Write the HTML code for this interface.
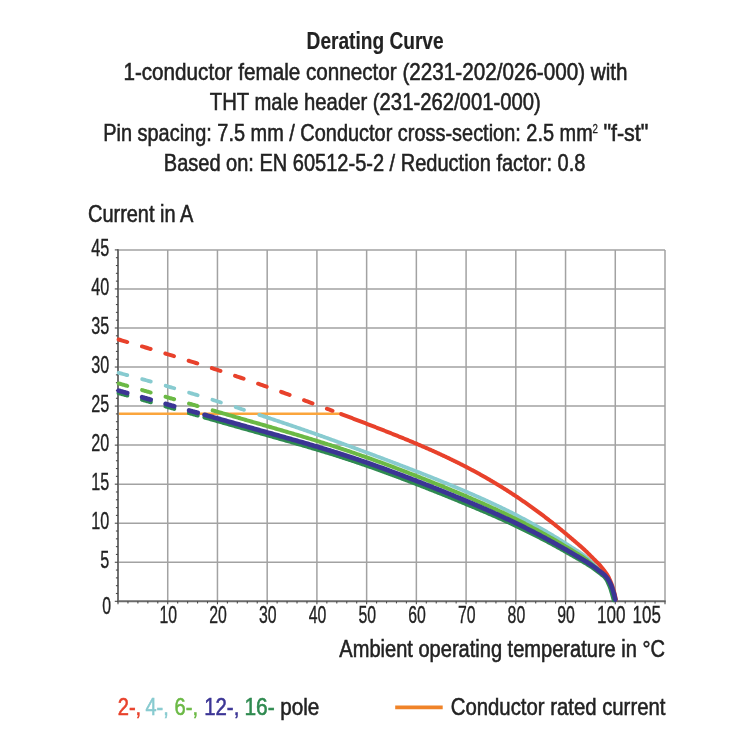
<!DOCTYPE html>
<html><head><meta charset="utf-8"><title>Derating Curve</title>
<style>html,body{margin:0;padding:0;background:#fff;}svg{display:block;}text{font-family:"Liberation Sans",sans-serif;}</style>
</head><body>
<svg width="750" height="750" viewBox="0 0 750 750" style="will-change:transform">
<rect width="750" height="750" fill="#ffffff"/>
<g stroke="#a2a2a2" stroke-width="1.5" fill="none">
<line x1="167.73" y1="249.90" x2="167.73" y2="601.30"/>
<line x1="217.45" y1="249.90" x2="217.45" y2="601.30"/>
<line x1="267.18" y1="249.90" x2="267.18" y2="601.30"/>
<line x1="316.91" y1="249.90" x2="316.91" y2="601.30"/>
<line x1="366.64" y1="249.90" x2="366.64" y2="601.30"/>
<line x1="416.36" y1="249.90" x2="416.36" y2="601.30"/>
<line x1="466.09" y1="249.90" x2="466.09" y2="601.30"/>
<line x1="515.82" y1="249.90" x2="515.82" y2="601.30"/>
<line x1="565.55" y1="249.90" x2="565.55" y2="601.30"/>
<line x1="615.27" y1="249.90" x2="615.27" y2="601.30"/>
<line x1="665.00" y1="249.90" x2="665.00" y2="601.30"/>
<line x1="118.00" y1="562.26" x2="665.00" y2="562.26"/>
<line x1="118.00" y1="523.21" x2="665.00" y2="523.21"/>
<line x1="118.00" y1="484.17" x2="665.00" y2="484.17"/>
<line x1="118.00" y1="445.12" x2="665.00" y2="445.12"/>
<line x1="118.00" y1="406.08" x2="665.00" y2="406.08"/>
<line x1="118.00" y1="367.03" x2="665.00" y2="367.03"/>
<line x1="118.00" y1="327.99" x2="665.00" y2="327.99"/>
<line x1="118.00" y1="288.94" x2="665.00" y2="288.94"/>
<line x1="118.00" y1="249.90" x2="665.00" y2="249.90"/>
</g>
<g stroke="#6a6a6a" stroke-width="1.9" fill="none">
<line x1="118.00" y1="249.20" x2="118.00" y2="602.20"/>
<line x1="117.10" y1="601.30" x2="665.70" y2="601.30"/>
</g>
<g stroke="#4a4a4a" stroke-width="1.1" fill="none">
<line x1="114.80" y1="601.30" x2="118.00" y2="601.30"/>
<line x1="115.90" y1="593.49" x2="118.00" y2="593.49"/>
<line x1="115.90" y1="585.68" x2="118.00" y2="585.68"/>
<line x1="115.90" y1="577.87" x2="118.00" y2="577.87"/>
<line x1="115.90" y1="570.06" x2="118.00" y2="570.06"/>
<line x1="114.80" y1="562.26" x2="118.00" y2="562.26"/>
<line x1="115.90" y1="554.45" x2="118.00" y2="554.45"/>
<line x1="115.90" y1="546.64" x2="118.00" y2="546.64"/>
<line x1="115.90" y1="538.83" x2="118.00" y2="538.83"/>
<line x1="115.90" y1="531.02" x2="118.00" y2="531.02"/>
<line x1="114.80" y1="523.21" x2="118.00" y2="523.21"/>
<line x1="115.90" y1="515.40" x2="118.00" y2="515.40"/>
<line x1="115.90" y1="507.59" x2="118.00" y2="507.59"/>
<line x1="115.90" y1="499.78" x2="118.00" y2="499.78"/>
<line x1="115.90" y1="491.98" x2="118.00" y2="491.98"/>
<line x1="114.80" y1="484.17" x2="118.00" y2="484.17"/>
<line x1="115.90" y1="476.36" x2="118.00" y2="476.36"/>
<line x1="115.90" y1="468.55" x2="118.00" y2="468.55"/>
<line x1="115.90" y1="460.74" x2="118.00" y2="460.74"/>
<line x1="115.90" y1="452.93" x2="118.00" y2="452.93"/>
<line x1="114.80" y1="445.12" x2="118.00" y2="445.12"/>
<line x1="115.90" y1="437.31" x2="118.00" y2="437.31"/>
<line x1="115.90" y1="429.50" x2="118.00" y2="429.50"/>
<line x1="115.90" y1="421.70" x2="118.00" y2="421.70"/>
<line x1="115.90" y1="413.89" x2="118.00" y2="413.89"/>
<line x1="114.80" y1="406.08" x2="118.00" y2="406.08"/>
<line x1="115.90" y1="398.27" x2="118.00" y2="398.27"/>
<line x1="115.90" y1="390.46" x2="118.00" y2="390.46"/>
<line x1="115.90" y1="382.65" x2="118.00" y2="382.65"/>
<line x1="115.90" y1="374.84" x2="118.00" y2="374.84"/>
<line x1="114.80" y1="367.03" x2="118.00" y2="367.03"/>
<line x1="115.90" y1="359.22" x2="118.00" y2="359.22"/>
<line x1="115.90" y1="351.42" x2="118.00" y2="351.42"/>
<line x1="115.90" y1="343.61" x2="118.00" y2="343.61"/>
<line x1="115.90" y1="335.80" x2="118.00" y2="335.80"/>
<line x1="114.80" y1="327.99" x2="118.00" y2="327.99"/>
<line x1="115.90" y1="320.18" x2="118.00" y2="320.18"/>
<line x1="115.90" y1="312.37" x2="118.00" y2="312.37"/>
<line x1="115.90" y1="304.56" x2="118.00" y2="304.56"/>
<line x1="115.90" y1="296.75" x2="118.00" y2="296.75"/>
<line x1="114.80" y1="288.94" x2="118.00" y2="288.94"/>
<line x1="115.90" y1="281.14" x2="118.00" y2="281.14"/>
<line x1="115.90" y1="273.33" x2="118.00" y2="273.33"/>
<line x1="115.90" y1="265.52" x2="118.00" y2="265.52"/>
<line x1="115.90" y1="257.71" x2="118.00" y2="257.71"/>
<line x1="114.80" y1="249.90" x2="118.00" y2="249.90"/>
<line x1="118.00" y1="601.30" x2="118.00" y2="604.30"/>
<line x1="127.95" y1="601.30" x2="127.95" y2="603.40"/>
<line x1="137.89" y1="601.30" x2="137.89" y2="603.40"/>
<line x1="147.84" y1="601.30" x2="147.84" y2="603.40"/>
<line x1="157.78" y1="601.30" x2="157.78" y2="603.40"/>
<line x1="167.73" y1="601.30" x2="167.73" y2="604.30"/>
<line x1="177.67" y1="601.30" x2="177.67" y2="603.40"/>
<line x1="187.62" y1="601.30" x2="187.62" y2="603.40"/>
<line x1="197.56" y1="601.30" x2="197.56" y2="603.40"/>
<line x1="207.51" y1="601.30" x2="207.51" y2="603.40"/>
<line x1="217.45" y1="601.30" x2="217.45" y2="604.30"/>
<line x1="227.40" y1="601.30" x2="227.40" y2="603.40"/>
<line x1="237.35" y1="601.30" x2="237.35" y2="603.40"/>
<line x1="247.29" y1="601.30" x2="247.29" y2="603.40"/>
<line x1="257.24" y1="601.30" x2="257.24" y2="603.40"/>
<line x1="267.18" y1="601.30" x2="267.18" y2="604.30"/>
<line x1="277.13" y1="601.30" x2="277.13" y2="603.40"/>
<line x1="287.07" y1="601.30" x2="287.07" y2="603.40"/>
<line x1="297.02" y1="601.30" x2="297.02" y2="603.40"/>
<line x1="306.96" y1="601.30" x2="306.96" y2="603.40"/>
<line x1="316.91" y1="601.30" x2="316.91" y2="604.30"/>
<line x1="326.85" y1="601.30" x2="326.85" y2="603.40"/>
<line x1="336.80" y1="601.30" x2="336.80" y2="603.40"/>
<line x1="346.75" y1="601.30" x2="346.75" y2="603.40"/>
<line x1="356.69" y1="601.30" x2="356.69" y2="603.40"/>
<line x1="366.64" y1="601.30" x2="366.64" y2="604.30"/>
<line x1="376.58" y1="601.30" x2="376.58" y2="603.40"/>
<line x1="386.53" y1="601.30" x2="386.53" y2="603.40"/>
<line x1="396.47" y1="601.30" x2="396.47" y2="603.40"/>
<line x1="406.42" y1="601.30" x2="406.42" y2="603.40"/>
<line x1="416.36" y1="601.30" x2="416.36" y2="604.30"/>
<line x1="426.31" y1="601.30" x2="426.31" y2="603.40"/>
<line x1="436.25" y1="601.30" x2="436.25" y2="603.40"/>
<line x1="446.20" y1="601.30" x2="446.20" y2="603.40"/>
<line x1="456.15" y1="601.30" x2="456.15" y2="603.40"/>
<line x1="466.09" y1="601.30" x2="466.09" y2="604.30"/>
<line x1="476.04" y1="601.30" x2="476.04" y2="603.40"/>
<line x1="485.98" y1="601.30" x2="485.98" y2="603.40"/>
<line x1="495.93" y1="601.30" x2="495.93" y2="603.40"/>
<line x1="505.87" y1="601.30" x2="505.87" y2="603.40"/>
<line x1="515.82" y1="601.30" x2="515.82" y2="604.30"/>
<line x1="525.76" y1="601.30" x2="525.76" y2="603.40"/>
<line x1="535.71" y1="601.30" x2="535.71" y2="603.40"/>
<line x1="545.65" y1="601.30" x2="545.65" y2="603.40"/>
<line x1="555.60" y1="601.30" x2="555.60" y2="603.40"/>
<line x1="565.55" y1="601.30" x2="565.55" y2="604.30"/>
<line x1="575.49" y1="601.30" x2="575.49" y2="603.40"/>
<line x1="585.44" y1="601.30" x2="585.44" y2="603.40"/>
<line x1="595.38" y1="601.30" x2="595.38" y2="603.40"/>
<line x1="605.33" y1="601.30" x2="605.33" y2="603.40"/>
<line x1="615.27" y1="601.30" x2="615.27" y2="604.30"/>
<line x1="625.22" y1="601.30" x2="625.22" y2="603.40"/>
<line x1="635.16" y1="601.30" x2="635.16" y2="603.40"/>
<line x1="645.11" y1="601.30" x2="645.11" y2="603.40"/>
<line x1="655.05" y1="601.30" x2="655.05" y2="603.40"/>
<line x1="665.00" y1="601.30" x2="665.00" y2="604.30"/>
</g>
<line x1="118.9" y1="413.7" x2="342.5" y2="413.7" stroke="#fba53c" stroke-width="2.5"/>
<path d="M118.60 372.85 L119.65 373.13 L120.71 373.41 L121.76 373.69 L122.82 373.97 L123.87 374.25 L124.92 374.53 L125.98 374.81 L127.03 375.09 L128.08 375.37 L129.14 375.65 L130.19 375.94 L131.25 376.22 L132.30 376.50 L133.35 376.79 L134.41 377.07 L135.46 377.36 L136.51 377.64 L137.57 377.93 L138.62 378.22 L139.68 378.51 L140.73 378.79 L141.78 379.08 L142.84 379.37 L143.89 379.66 L144.94 379.95 L146.00 380.25 L147.05 380.54 L148.11 380.83 L149.16 381.12 L150.21 381.42 L151.27 381.71 L152.32 382.01 L153.37 382.30 L154.43 382.60 L155.48 382.90 L156.54 383.19 L157.59 383.49 L158.64 383.79 L159.70 384.09 L160.75 384.39 L161.81 384.69 L162.86 384.99 L163.91 385.29 L164.97 385.59 L166.02 385.90 L167.07 386.20 L168.13 386.50 L169.18 386.81 L170.24 387.11 L171.29 387.42 L172.34 387.73 L173.40 388.03 L174.45 388.34 L175.50 388.65 L176.56 388.96 L177.61 389.27 L178.67 389.58 L179.72 389.89 L180.77 390.20 L181.83 390.51 L182.88 390.82 L183.93 391.13 L184.99 391.45 L186.04 391.76 L187.10 392.08 L188.15 392.39 L189.20 392.71 L190.26 393.02 L191.31 393.34 L192.36 393.66 L193.42 393.98 L194.47 394.29 L195.53 394.61 L196.58 394.93 L197.63 395.25 L198.69 395.57 L199.74 395.89 L200.79 396.22 L201.85 396.54 L202.90 396.86 L203.96 397.19 L205.01 397.51 L206.06 397.84 L207.12 398.16 L208.17 398.49 L209.23 398.81 L210.28 399.14 L211.33 399.47 L212.39 399.79 L213.44 400.12 L214.49 400.45 L215.55 400.78 L216.60 401.11 L217.66 401.44 L218.71 401.77 L219.76 402.10 L220.82 402.44 L221.87 402.77 L222.92 403.10 L223.98 403.44 L225.03 403.77 L226.09 404.10 L227.14 404.44 L228.19 404.77 L229.25 405.11 L230.30 405.45 L231.35 405.78 L232.41 406.12 L233.46 406.46 L234.52 406.80 L235.57 407.14 L236.62 407.47 L237.68 407.81 L238.73 408.15 L239.78 408.49 L240.84 408.83 L241.89 409.18 L242.95 409.52 L244.00 409.86" fill="none" stroke="#88cbd0" stroke-width="3.8" stroke-dasharray="9.0 15.4" stroke-linecap="round"/>
<path d="M259.30 414.86 L260.19 415.15 L261.08 415.45 L261.98 415.74 L262.87 416.04 L263.76 416.33 L264.65 416.63 L265.55 416.92 L266.44 417.22 L267.33 417.51 L268.22 417.81 L269.11 418.10 L270.01 418.40 L270.90 418.70 L271.79 418.99 L272.68 419.29 L273.58 419.59 L274.47 419.89 L275.36 420.19 L276.25 420.48 L277.14 420.78 L278.04 421.08 L278.93 421.38 L279.82 421.68 L280.71 421.98 L281.61 422.28 L282.50 422.58 L283.39 422.88 L284.28 423.18 L285.17 423.48 L286.07 423.78 L286.96 424.09 L287.85 424.39 L288.74 424.69 L289.64 424.99 L290.53 425.30 L291.42 425.60 L292.31 425.90 L293.20 426.21 L294.10 426.51 L294.99 426.82 L295.88 427.12 L296.77 427.43 L297.67 427.74 L298.56 428.04 L299.45 428.35 L300.34 428.66 L301.23 428.97 L302.13 429.27 L303.02 429.58 L303.91 429.89 L304.80 430.20 L305.70 430.51 L306.59 430.82 L307.48 431.13 L308.37 431.44 L309.26 431.75 L310.16 432.07 L311.05 432.38 L311.94 432.69 L312.83 433.00 L313.73 433.32 L314.62 433.63 L315.51 433.95 L316.40 434.26 L317.29 434.57 L318.19 434.89 L319.08 435.21 L319.97 435.52 L320.86 435.84 L321.76 436.16 L322.65 436.47 L323.54 436.79 L324.43 437.11 L325.33 437.43 L326.22 437.75 L327.11 438.07 L328.00 438.39 L328.89 438.71 L329.79 439.03 L330.68 439.35 L331.57 439.67 L332.46 439.99 L333.36 440.31 L334.25 440.63 L335.14 440.96 L336.03 441.28 L336.92 441.60 L337.82 441.92 L338.71 442.25 L339.60 442.57 L340.49 442.90 L341.39 443.22 L342.28 443.55 L343.17 443.87 L344.06 444.20 L344.95 444.52 L345.85 444.85 L346.74 445.18 L347.63 445.50 L348.52 445.83 L349.42 446.16 L350.31 446.48 L351.20 446.81 L352.09 447.14 L352.98 447.47 L353.88 447.79 L354.77 448.12 L355.66 448.45 L356.55 448.78 L357.45 449.11 L358.34 449.44 L359.23 449.77 L360.12 450.10 L361.01 450.43 L361.91 450.76 L362.80 451.09 L363.69 451.42 L364.58 451.75 L365.48 452.08 L366.37 452.41 L367.26 452.74 L368.15 453.07 L369.04 453.40 L369.94 453.74 L370.83 454.07 L371.72 454.40 L372.61 454.73 L373.51 455.07 L374.40 455.40 L375.29 455.73 L376.18 456.06 L377.07 456.40 L377.97 456.73 L378.86 457.07 L379.75 457.40 L380.64 457.73 L381.54 458.07 L382.43 458.40 L383.32 458.74 L384.21 459.07 L385.10 459.41 L386.00 459.74 L386.89 460.08 L387.78 460.41 L388.67 460.75 L389.57 461.09 L390.46 461.43 L391.35 461.76 L392.24 462.10 L393.13 462.44 L394.03 462.78 L394.92 463.11 L395.81 463.45 L396.70 463.79 L397.60 464.13 L398.49 464.47 L399.38 464.81 L400.27 465.15 L401.16 465.49 L402.06 465.83 L402.95 466.17 L403.84 466.52 L404.73 466.86 L405.63 467.20 L406.52 467.54 L407.41 467.89 L408.30 468.23 L409.19 468.58 L410.09 468.92 L410.98 469.27 L411.87 469.61 L412.76 469.96 L413.66 470.30 L414.55 470.65 L415.44 471.00 L416.33 471.35 L417.22 471.69 L418.12 472.04 L419.01 472.39 L419.90 472.74 L420.79 473.09 L421.69 473.44 L422.58 473.80 L423.47 474.15 L424.36 474.50 L425.25 474.85 L426.15 475.21 L427.04 475.56 L427.93 475.91 L428.82 476.27 L429.72 476.62 L430.61 476.98 L431.50 477.34 L432.39 477.69 L433.28 478.05 L434.18 478.41 L435.07 478.77 L435.96 479.13 L436.85 479.49 L437.75 479.85 L438.64 480.21 L439.53 480.57 L440.42 480.94 L441.32 481.30 L442.21 481.66 L443.10 482.03 L443.99 482.39 L444.88 482.76 L445.78 483.12 L446.67 483.49 L447.56 483.86 L448.45 484.22 L449.35 484.59 L450.24 484.96 L451.13 485.33 L452.02 485.70 L452.91 486.08 L453.81 486.45 L454.70 486.82 L455.59 487.19 L456.48 487.57 L457.38 487.94 L458.27 488.32 L459.16 488.69 L460.05 489.07 L460.94 489.45 L461.84 489.83 L462.73 490.21 L463.62 490.59 L464.51 490.97 L465.41 491.35 L466.30 491.74 L467.19 492.12 L468.08 492.50 L468.97 492.89 L469.87 493.28 L470.76 493.66 L471.65 494.05 L472.54 494.44 L473.44 494.83 L474.33 495.22 L475.22 495.62 L476.11 496.01 L477.00 496.40 L477.90 496.80 L478.79 497.19 L479.68 497.59 L480.57 497.99 L481.47 498.39 L482.36 498.79 L483.25 499.19 L484.14 499.60 L485.03 500.00 L485.93 500.41 L486.82 500.81 L487.71 501.22 L488.60 501.63 L489.50 502.04 L490.39 502.45 L491.28 502.86 L492.17 503.28 L493.06 503.69 L493.96 504.11 L494.85 504.53 L495.74 504.95 L496.63 505.37 L497.53 505.79 L498.42 506.22 L499.31 506.64 L500.20 507.07 L501.09 507.50 L501.99 507.93 L502.88 508.36 L503.77 508.79 L504.66 509.23 L505.56 509.66 L506.45 510.10 L507.34 510.54 L508.23 510.98 L509.12 511.43 L510.02 511.87 L510.91 512.32 L511.80 512.77 L512.69 513.22 L513.59 513.67 L514.48 514.12 L515.37 514.58 L516.26 515.04 L517.15 515.50 L518.05 515.96 L518.94 516.42 L519.83 516.89 L520.72 517.36 L521.62 517.82 L522.51 518.30 L523.40 518.77 L524.29 519.24 L525.18 519.72 L526.08 520.20 L526.97 520.68 L527.86 521.16 L528.75 521.64 L529.65 522.13 L530.54 522.62 L531.43 523.11 L532.32 523.60 L533.21 524.10 L534.11 524.59 L535.00 525.09 L535.89 525.59 L536.78 526.09 L537.68 526.60 L538.57 527.10 L539.46 527.61 L540.35 528.12 L541.24 528.63 L542.14 529.15 L543.03 529.66 L543.92 530.18 L544.81 530.70 L545.71 531.22 L546.60 531.74 L547.49 532.27 L548.38 532.80 L549.27 533.33 L550.17 533.86 L551.06 534.39 L551.95 534.93 L552.84 535.47 L553.74 536.01 L554.63 536.55 L555.52 537.09 L556.41 537.64 L557.31 538.18 L558.20 538.73 L559.09 539.28 L559.98 539.84 L560.87 540.39 L561.77 540.95 L562.66 541.52 L563.55 542.08 L564.44 542.64 L565.34 543.21 L566.23 543.78 L567.12 544.35 L568.01 544.92 L568.90 545.49 L569.80 546.07 L570.69 546.64 L571.58 547.22 L572.47 547.79 L573.37 548.36 L574.26 548.93 L575.15 549.50 L576.04 550.07 L576.93 550.64 L577.83 551.22 L578.72 551.80 L579.61 552.39 L580.50 552.99 L581.40 553.59 L582.29 554.22 L583.18 554.85 L584.07 555.50 L584.96 556.16 L585.86 556.87 L586.75 557.63 L587.64 558.46 L588.53 559.31 L589.43 560.16 L590.32 561.02 L591.21 561.90 L592.10 562.79 L592.99 563.69 L593.89 564.59 L594.78 565.49 L595.67 566.39 L596.56 567.28 L597.46 568.18 L598.35 569.08 L599.24 569.97 L600.13 570.87 L601.02 571.77 L601.92 572.67 L602.81 573.56 L603.70 574.46 L604.59 575.35 L605.49 576.25 L606.38 577.23 L607.27 578.31 L608.16 579.51 L609.05 580.91 L609.95 582.58 L610.84 584.51 L611.73 586.74 L612.62 589.39 L613.52 592.35 L614.41 595.48 L615.30 599.60" fill="none" stroke="#88cbd0" stroke-width="3.8" stroke-linejoin="round" stroke-linecap="round"/>
<path d="M118.60 383.43 L119.27 383.62 L119.93 383.80 L120.60 383.99 L121.27 384.18 L121.94 384.37 L122.60 384.56 L123.27 384.75 L123.94 384.93 L124.61 385.12 L125.27 385.31 L125.94 385.50 L126.61 385.69 L127.27 385.88 L127.94 386.07 L128.61 386.26 L129.28 386.44 L129.94 386.63 L130.61 386.82 L131.28 387.01 L131.94 387.20 L132.61 387.39 L133.28 387.58 L133.95 387.77 L134.61 387.96 L135.28 388.15 L135.95 388.34 L136.62 388.53 L137.28 388.72 L137.95 388.91 L138.62 389.09 L139.28 389.28 L139.95 389.47 L140.62 389.66 L141.29 389.85 L141.95 390.04 L142.62 390.23 L143.29 390.42 L143.95 390.61 L144.62 390.81 L145.29 391.00 L145.96 391.19 L146.62 391.38 L147.29 391.57 L147.96 391.76 L148.63 391.95 L149.29 392.14 L149.96 392.33 L150.63 392.52 L151.29 392.71 L151.96 392.90 L152.63 393.09 L153.30 393.28 L153.96 393.47 L154.63 393.67 L155.30 393.86 L155.96 394.05 L156.63 394.24 L157.30 394.43 L157.97 394.62 L158.63 394.81 L159.30 395.00 L159.97 395.20 L160.64 395.39 L161.30 395.58 L161.97 395.77 L162.64 395.96 L163.30 396.15 L163.97 396.35 L164.64 396.54 L165.31 396.73 L165.97 396.92 L166.64 397.11 L167.31 397.31 L167.97 397.50 L168.64 397.69 L169.31 397.88 L169.98 398.07 L170.64 398.27 L171.31 398.46 L171.98 398.65 L172.65 398.84 L173.31 399.03 L173.98 399.23 L174.65 399.42 L175.31 399.61 L175.98 399.80 L176.65 400.00 L177.32 400.19 L177.98 400.38 L178.65 400.57 L179.32 400.77 L179.98 400.96 L180.65 401.15 L181.32 401.34 L181.99 401.54 L182.65 401.73 L183.32 401.92 L183.99 402.11 L184.66 402.30 L185.32 402.50 L185.99 402.69 L186.66 402.88 L187.32 403.08 L187.99 403.27 L188.66 403.46 L189.33 403.65 L189.99 403.85 L190.66 404.04 L191.33 404.23 L191.99 404.42 L192.66 404.62 L193.33 404.81 L194.00 405.00 L194.66 405.19 L195.33 405.39 L196.00 405.58 L196.67 405.77 L197.33 405.96 L198.00 406.16" fill="none" stroke="#6bb945" stroke-width="4.0" stroke-dasharray="9.0 15.4" stroke-linecap="round"/>
<path d="M212.70 410.40 L213.71 410.69 L214.72 410.98 L215.73 411.27 L216.74 411.56 L217.75 411.85 L218.75 412.15 L219.76 412.44 L220.77 412.73 L221.78 413.02 L222.79 413.31 L223.80 413.60 L224.81 413.89 L225.82 414.18 L226.83 414.48 L227.84 414.77 L228.84 415.06 L229.85 415.35 L230.86 415.64 L231.87 415.93 L232.88 416.22 L233.89 416.51 L234.90 416.80 L235.91 417.10 L236.92 417.39 L237.93 417.68 L238.93 417.97 L239.94 418.26 L240.95 418.55 L241.96 418.84 L242.97 419.13 L243.98 419.43 L244.99 419.72 L246.00 420.01 L247.01 420.30 L248.02 420.59 L249.02 420.88 L250.03 421.17 L251.04 421.46 L252.05 421.75 L253.06 422.05 L254.07 422.34 L255.08 422.63 L256.09 422.92 L257.10 423.21 L258.11 423.50 L259.12 423.79 L260.12 424.08 L261.13 424.38 L262.14 424.67 L263.15 424.96 L264.16 425.25 L265.17 425.54 L266.18 425.83 L267.19 426.13 L268.20 426.42 L269.21 426.71 L270.21 427.00 L271.22 427.29 L272.23 427.59 L273.24 427.88 L274.25 428.17 L275.26 428.47 L276.27 428.76 L277.28 429.05 L278.29 429.35 L279.30 429.64 L280.30 429.94 L281.31 430.23 L282.32 430.52 L283.33 430.82 L284.34 431.11 L285.35 431.41 L286.36 431.71 L287.37 432.00 L288.38 432.30 L289.39 432.60 L290.39 432.90 L291.40 433.19 L292.41 433.49 L293.42 433.79 L294.43 434.09 L295.44 434.39 L296.45 434.69 L297.46 434.99 L298.47 435.29 L299.48 435.59 L300.48 435.90 L301.49 436.20 L302.50 436.50 L303.51 436.81 L304.52 437.11 L305.53 437.42 L306.54 437.73 L307.55 438.03 L308.56 438.34 L309.57 438.65 L310.58 438.96 L311.58 439.26 L312.59 439.57 L313.60 439.88 L314.61 440.20 L315.62 440.51 L316.63 440.82 L317.64 441.13 L318.65 441.45 L319.66 441.76 L320.67 442.08 L321.67 442.40 L322.68 442.71 L323.69 443.03 L324.70 443.35 L325.71 443.67 L326.72 443.99 L327.73 444.31 L328.74 444.63 L329.75 444.96 L330.76 445.28 L331.76 445.61 L332.77 445.93 L333.78 446.26 L334.79 446.59 L335.80 446.91 L336.81 447.24 L337.82 447.57 L338.83 447.90 L339.84 448.24 L340.85 448.57 L341.85 448.90 L342.86 449.24 L343.87 449.57 L344.88 449.91 L345.89 450.25 L346.90 450.58 L347.91 450.92 L348.92 451.26 L349.93 451.60 L350.94 451.95 L351.95 452.29 L352.95 452.63 L353.96 452.98 L354.97 453.32 L355.98 453.67 L356.99 454.02 L358.00 454.36 L359.01 454.71 L360.02 455.06 L361.03 455.41 L362.04 455.77 L363.04 456.12 L364.05 456.47 L365.06 456.83 L366.07 457.18 L367.08 457.54 L368.09 457.90 L369.10 458.25 L370.11 458.61 L371.12 458.97 L372.13 459.33 L373.13 459.70 L374.14 460.06 L375.15 460.42 L376.16 460.79 L377.17 461.15 L378.18 461.52 L379.19 461.88 L380.20 462.25 L381.21 462.62 L382.22 462.99 L383.22 463.36 L384.23 463.73 L385.24 464.10 L386.25 464.48 L387.26 464.85 L388.27 465.22 L389.28 465.60 L390.29 465.97 L391.30 466.35 L392.31 466.73 L393.32 467.11 L394.32 467.48 L395.33 467.86 L396.34 468.25 L397.35 468.63 L398.36 469.01 L399.37 469.39 L400.38 469.78 L401.39 470.16 L402.40 470.55 L403.41 470.93 L404.41 471.32 L405.42 471.70 L406.43 472.09 L407.44 472.48 L408.45 472.87 L409.46 473.26 L410.47 473.65 L411.48 474.04 L412.49 474.43 L413.50 474.83 L414.50 475.22 L415.51 475.62 L416.52 476.01 L417.53 476.41 L418.54 476.80 L419.55 477.20 L420.56 477.60 L421.57 478.00 L422.58 478.39 L423.59 478.79 L424.59 479.19 L425.60 479.59 L426.61 480.00 L427.62 480.40 L428.63 480.80 L429.64 481.20 L430.65 481.61 L431.66 482.01 L432.67 482.42 L433.68 482.82 L434.68 483.23 L435.69 483.64 L436.70 484.05 L437.71 484.45 L438.72 484.86 L439.73 485.27 L440.74 485.68 L441.75 486.09 L442.76 486.51 L443.77 486.92 L444.78 487.33 L445.78 487.74 L446.79 488.16 L447.80 488.57 L448.81 488.99 L449.82 489.40 L450.83 489.82 L451.84 490.24 L452.85 490.66 L453.86 491.08 L454.87 491.50 L455.87 491.92 L456.88 492.34 L457.89 492.76 L458.90 493.19 L459.91 493.61 L460.92 494.03 L461.93 494.46 L462.94 494.89 L463.95 495.31 L464.96 495.74 L465.96 496.17 L466.97 496.60 L467.98 497.04 L468.99 497.47 L470.00 497.90 L471.01 498.34 L472.02 498.77 L473.03 499.21 L474.04 499.64 L475.05 500.08 L476.05 500.52 L477.06 500.96 L478.07 501.40 L479.08 501.85 L480.09 502.29 L481.10 502.74 L482.11 503.18 L483.12 503.63 L484.13 504.08 L485.14 504.53 L486.15 504.99 L487.15 505.44 L488.16 505.89 L489.17 506.35 L490.18 506.81 L491.19 507.26 L492.20 507.72 L493.21 508.19 L494.22 508.65 L495.23 509.11 L496.24 509.58 L497.24 510.05 L498.25 510.52 L499.26 510.99 L500.27 511.46 L501.28 511.94 L502.29 512.42 L503.30 512.89 L504.31 513.37 L505.32 513.86 L506.33 514.34 L507.33 514.83 L508.34 515.31 L509.35 515.80 L510.36 516.29 L511.37 516.79 L512.38 517.28 L513.39 517.78 L514.40 518.28 L515.41 518.78 L516.42 519.29 L517.42 519.79 L518.43 520.30 L519.44 520.81 L520.45 521.32 L521.46 521.84 L522.47 522.35 L523.48 522.87 L524.49 523.39 L525.50 523.92 L526.51 524.44 L527.52 524.97 L528.52 525.50 L529.53 526.03 L530.54 526.56 L531.55 527.10 L532.56 527.64 L533.57 528.18 L534.58 528.72 L535.59 529.26 L536.60 529.81 L537.61 530.36 L538.61 530.91 L539.62 531.46 L540.63 532.02 L541.64 532.58 L542.65 533.14 L543.66 533.70 L544.67 534.26 L545.68 534.82 L546.69 535.39 L547.70 535.96 L548.70 536.53 L549.71 537.11 L550.72 537.69 L551.73 538.26 L552.74 538.84 L553.75 539.43 L554.76 540.01 L555.77 540.60 L556.78 541.19 L557.79 541.78 L558.79 542.37 L559.80 542.97 L560.81 543.57 L561.82 544.17 L562.83 544.77 L563.84 545.38 L564.85 545.98 L565.86 546.59 L566.87 547.20 L567.88 547.82 L568.88 548.43 L569.89 549.05 L570.90 549.66 L571.91 550.28 L572.92 550.89 L573.93 551.51 L574.94 552.12 L575.95 552.73 L576.96 553.34 L577.97 553.96 L578.98 554.58 L579.98 555.21 L580.99 555.85 L582.00 556.51 L583.01 557.18 L584.02 557.86 L585.03 558.57 L586.04 559.32 L587.05 560.13 L588.06 561.01 L589.07 561.89 L590.07 562.75 L591.08 563.62 L592.09 564.48 L593.10 565.34 L594.11 566.21 L595.12 567.07 L596.13 567.93 L597.14 568.80 L598.15 569.66 L599.16 570.52 L600.16 571.39 L601.17 572.25 L602.18 573.10 L603.19 573.95 L604.20 574.87 L605.21 575.84 L606.22 576.92 L607.23 578.17 L608.24 579.60 L609.25 581.26 L610.25 583.22 L611.26 585.52 L612.27 588.30 L613.28 591.55 L614.29 595.06 L615.30 599.60" fill="none" stroke="#6bb945" stroke-width="4.0" stroke-linejoin="round" stroke-linecap="round"/>
<path d="M118.60 339.51 L120.40 340.03 L122.19 340.56 L123.99 341.09 L125.79 341.62 L127.59 342.15 L129.38 342.68 L131.18 343.21 L132.98 343.74 L134.78 344.28 L136.57 344.81 L138.37 345.35 L140.17 345.88 L141.97 346.42 L143.76 346.96 L145.56 347.50 L147.36 348.04 L149.16 348.58 L150.95 349.12 L152.75 349.66 L154.55 350.21 L156.35 350.75 L158.14 351.30 L159.94 351.84 L161.74 352.39 L163.54 352.94 L165.33 353.49 L167.13 354.04 L168.93 354.59 L170.73 355.15 L172.52 355.70 L174.32 356.26 L176.12 356.81 L177.92 357.37 L179.71 357.93 L181.51 358.49 L183.31 359.05 L185.11 359.61 L186.90 360.18 L188.70 360.74 L190.50 361.31 L192.30 361.88 L194.09 362.44 L195.89 363.01 L197.69 363.59 L199.49 364.16 L201.28 364.73 L203.08 365.31 L204.88 365.89 L206.68 366.46 L208.47 367.04 L210.27 367.63 L212.07 368.21 L213.87 368.79 L215.66 369.38 L217.46 369.97 L219.26 370.56 L221.06 371.15 L222.85 371.74 L224.65 372.34 L226.45 372.93 L228.25 373.53 L230.04 374.13 L231.84 374.73 L233.64 375.33 L235.44 375.94 L237.23 376.55 L239.03 377.15 L240.83 377.76 L242.63 378.38 L244.42 378.99 L246.22 379.60 L248.02 380.22 L249.82 380.84 L251.61 381.46 L253.41 382.08 L255.21 382.70 L257.01 383.33 L258.80 383.96 L260.60 384.58 L262.40 385.22 L264.20 385.85 L265.99 386.48 L267.79 387.12 L269.59 387.75 L271.39 388.39 L273.18 389.03 L274.98 389.67 L276.78 390.31 L278.58 390.96 L280.37 391.60 L282.17 392.25 L283.97 392.90 L285.77 393.55 L287.56 394.20 L289.36 394.85 L291.16 395.50 L292.96 396.16 L294.75 396.81 L296.55 397.47 L298.35 398.13 L300.15 398.79 L301.94 399.45 L303.74 400.11 L305.54 400.77 L307.34 401.43 L309.13 402.10 L310.93 402.76 L312.73 403.43 L314.53 404.09 L316.32 404.76 L318.12 405.43 L319.92 406.09 L321.72 406.76 L323.51 407.43 L325.31 408.11 L327.11 408.78 L328.91 409.45 L330.70 410.12 L332.50 410.80" fill="none" stroke="#e8412b" stroke-width="4.0" stroke-dasharray="9.0 15.4" stroke-linecap="round"/>
<path d="M341.20 414.07 L341.89 414.33 L342.58 414.59 L343.27 414.85 L343.95 415.11 L344.64 415.37 L345.33 415.63 L346.02 415.89 L346.71 416.15 L347.40 416.41 L348.08 416.67 L348.77 416.93 L349.46 417.19 L350.15 417.46 L350.84 417.72 L351.53 417.98 L352.22 418.24 L352.90 418.50 L353.59 418.76 L354.28 419.03 L354.97 419.29 L355.66 419.55 L356.35 419.81 L357.03 420.08 L357.72 420.34 L358.41 420.60 L359.10 420.86 L359.79 421.13 L360.48 421.39 L361.17 421.66 L361.85 421.92 L362.54 422.18 L363.23 422.45 L363.92 422.71 L364.61 422.98 L365.30 423.24 L365.98 423.51 L366.67 423.77 L367.36 424.04 L368.05 424.30 L368.74 424.57 L369.43 424.83 L370.12 425.10 L370.80 425.37 L371.49 425.63 L372.18 425.90 L372.87 426.17 L373.56 426.43 L374.25 426.70 L374.94 426.97 L375.62 427.24 L376.31 427.51 L377.00 427.77 L377.69 428.04 L378.38 428.31 L379.07 428.58 L379.75 428.85 L380.44 429.12 L381.13 429.39 L381.82 429.66 L382.51 429.93 L383.20 430.20 L383.89 430.47 L384.57 430.74 L385.26 431.02 L385.95 431.29 L386.64 431.56 L387.33 431.83 L388.02 432.11 L388.70 432.38 L389.39 432.65 L390.08 432.93 L390.77 433.20 L391.46 433.48 L392.15 433.75 L392.84 434.03 L393.52 434.30 L394.21 434.58 L394.90 434.86 L395.59 435.14 L396.28 435.41 L396.97 435.69 L397.65 435.97 L398.34 436.25 L399.03 436.53 L399.72 436.81 L400.41 437.09 L401.10 437.37 L401.79 437.65 L402.47 437.93 L403.16 438.21 L403.85 438.49 L404.54 438.77 L405.23 439.06 L405.92 439.34 L406.60 439.63 L407.29 439.91 L407.98 440.20 L408.67 440.48 L409.36 440.77 L410.05 441.05 L410.74 441.34 L411.42 441.63 L412.11 441.92 L412.80 442.21 L413.49 442.50 L414.18 442.79 L414.87 443.08 L415.55 443.37 L416.24 443.66 L416.93 443.95 L417.62 444.24 L418.31 444.54 L419.00 444.83 L419.69 445.13 L420.37 445.42 L421.06 445.72 L421.75 446.01 L422.44 446.31 L423.13 446.61 L423.82 446.91 L424.51 447.21 L425.19 447.51 L425.88 447.81 L426.57 448.11 L427.26 448.41 L427.95 448.72 L428.64 449.02 L429.32 449.32 L430.01 449.63 L430.70 449.94 L431.39 450.24 L432.08 450.55 L432.77 450.86 L433.46 451.17 L434.14 451.48 L434.83 451.79 L435.52 452.10 L436.21 452.41 L436.90 452.72 L437.59 453.04 L438.27 453.35 L438.96 453.67 L439.65 453.99 L440.34 454.30 L441.03 454.62 L441.72 454.94 L442.41 455.26 L443.09 455.58 L443.78 455.90 L444.47 456.23 L445.16 456.55 L445.85 456.88 L446.54 457.20 L447.22 457.53 L447.91 457.86 L448.60 458.18 L449.29 458.51 L449.98 458.84 L450.67 459.18 L451.36 459.51 L452.04 459.84 L452.73 460.18 L453.42 460.51 L454.11 460.85 L454.80 461.19 L455.49 461.53 L456.17 461.87 L456.86 462.21 L457.55 462.55 L458.24 462.89 L458.93 463.24 L459.62 463.58 L460.31 463.93 L460.99 464.28 L461.68 464.63 L462.37 464.98 L463.06 465.33 L463.75 465.68 L464.44 466.03 L465.12 466.39 L465.81 466.74 L466.50 467.10 L467.19 467.46 L467.88 467.82 L468.57 468.18 L469.26 468.54 L469.94 468.91 L470.63 469.27 L471.32 469.64 L472.01 470.00 L472.70 470.37 L473.39 470.74 L474.07 471.11 L474.76 471.48 L475.45 471.86 L476.14 472.23 L476.83 472.61 L477.52 472.98 L478.21 473.36 L478.89 473.74 L479.58 474.12 L480.27 474.50 L480.96 474.89 L481.65 475.27 L482.34 475.66 L483.03 476.05 L483.71 476.44 L484.40 476.83 L485.09 477.22 L485.78 477.61 L486.47 478.01 L487.16 478.40 L487.84 478.80 L488.53 479.20 L489.22 479.60 L489.91 480.00 L490.60 480.40 L491.29 480.81 L491.98 481.21 L492.66 481.62 L493.35 482.03 L494.04 482.44 L494.73 482.85 L495.42 483.26 L496.11 483.68 L496.79 484.09 L497.48 484.51 L498.17 484.93 L498.86 485.35 L499.55 485.77 L500.24 486.19 L500.93 486.62 L501.61 487.05 L502.30 487.47 L502.99 487.90 L503.68 488.33 L504.37 488.77 L505.06 489.20 L505.74 489.64 L506.43 490.07 L507.12 490.51 L507.81 490.95 L508.50 491.39 L509.19 491.83 L509.88 492.28 L510.56 492.72 L511.25 493.17 L511.94 493.62 L512.63 494.07 L513.32 494.52 L514.01 494.98 L514.69 495.43 L515.38 495.89 L516.07 496.35 L516.76 496.80 L517.45 497.27 L518.14 497.73 L518.83 498.19 L519.51 498.66 L520.20 499.13 L520.89 499.60 L521.58 500.07 L522.27 500.54 L522.96 501.02 L523.64 501.49 L524.33 501.97 L525.02 502.45 L525.71 502.93 L526.40 503.41 L527.09 503.89 L527.78 504.38 L528.46 504.86 L529.15 505.35 L529.84 505.84 L530.53 506.33 L531.22 506.82 L531.91 507.32 L532.59 507.81 L533.28 508.31 L533.97 508.81 L534.66 509.31 L535.35 509.82 L536.04 510.32 L536.73 510.83 L537.41 511.33 L538.10 511.84 L538.79 512.35 L539.48 512.87 L540.17 513.38 L540.86 513.90 L541.55 514.41 L542.23 514.93 L542.92 515.45 L543.61 515.97 L544.30 516.50 L544.99 517.02 L545.68 517.55 L546.36 518.08 L547.05 518.61 L547.74 519.14 L548.43 519.67 L549.12 520.21 L549.81 520.74 L550.50 521.28 L551.18 521.82 L551.87 522.36 L552.56 522.91 L553.25 523.45 L553.94 524.00 L554.63 524.55 L555.31 525.10 L556.00 525.65 L556.69 526.20 L557.38 526.76 L558.07 527.31 L558.76 527.87 L559.45 528.43 L560.13 528.99 L560.82 529.56 L561.51 530.12 L562.20 530.69 L562.89 531.26 L563.58 531.84 L564.26 532.41 L564.95 532.98 L565.64 533.56 L566.33 534.14 L567.02 534.72 L567.71 535.30 L568.40 535.88 L569.08 536.46 L569.77 537.04 L570.46 537.63 L571.15 538.21 L571.84 538.80 L572.53 539.38 L573.21 539.97 L573.90 540.55 L574.59 541.14 L575.28 541.72 L575.97 542.31 L576.66 542.90 L577.35 543.49 L578.03 544.08 L578.72 544.68 L579.41 545.28 L580.10 545.88 L580.79 546.48 L581.48 547.09 L582.16 547.70 L582.85 548.32 L583.54 548.94 L584.23 549.56 L584.92 550.19 L585.61 550.84 L586.30 551.49 L586.98 552.17 L587.67 552.86 L588.36 553.55 L589.05 554.24 L589.74 554.93 L590.43 555.62 L591.12 556.31 L591.80 557.00 L592.49 557.69 L593.18 558.37 L593.87 559.06 L594.56 559.75 L595.25 560.44 L595.93 561.13 L596.62 561.81 L597.31 562.49 L598.00 563.17 L598.69 563.87 L599.38 564.62 L600.07 565.39 L600.75 566.19 L601.44 567.02 L602.13 567.90 L602.82 568.80 L603.51 569.71 L604.20 570.60 L604.88 571.47 L605.57 572.37 L606.26 573.34 L606.95 574.39 L607.64 575.51 L608.33 576.72 L609.02 578.03 L609.70 579.48 L610.39 581.06 L611.08 582.74 L611.77 584.55 L612.46 586.49 L613.15 588.60 L613.83 590.87 L614.52 593.35 L615.21 596.16 L615.90 599.59" fill="none" stroke="#e8412b" stroke-width="4.0" stroke-linejoin="round" stroke-linecap="round"/>
<path d="M118.60 392.99 L119.27 393.18 L119.93 393.37 L120.60 393.56 L121.27 393.75 L121.94 393.93 L122.60 394.12 L123.27 394.31 L123.94 394.50 L124.61 394.69 L125.27 394.88 L125.94 395.07 L126.61 395.26 L127.27 395.45 L127.94 395.64 L128.61 395.83 L129.28 396.02 L129.94 396.21 L130.61 396.40 L131.28 396.59 L131.94 396.78 L132.61 396.97 L133.28 397.15 L133.95 397.34 L134.61 397.53 L135.28 397.72 L135.95 397.91 L136.62 398.10 L137.28 398.29 L137.95 398.48 L138.62 398.67 L139.28 398.86 L139.95 399.05 L140.62 399.24 L141.29 399.43 L141.95 399.62 L142.62 399.81 L143.29 400.00 L143.95 400.19 L144.62 400.37 L145.29 400.56 L145.96 400.75 L146.62 400.94 L147.29 401.13 L147.96 401.32 L148.63 401.51 L149.29 401.70 L149.96 401.89 L150.63 402.08 L151.29 402.27 L151.96 402.46 L152.63 402.65 L153.30 402.84 L153.96 403.03 L154.63 403.22 L155.30 403.41 L155.96 403.59 L156.63 403.78 L157.30 403.97 L157.97 404.16 L158.63 404.35 L159.30 404.54 L159.97 404.73 L160.64 404.92 L161.30 405.11 L161.97 405.30 L162.64 405.49 L163.30 405.68 L163.97 405.87 L164.64 406.06 L165.31 406.25 L165.97 406.44 L166.64 406.63 L167.31 406.81 L167.97 407.00 L168.64 407.19 L169.31 407.38 L169.98 407.57 L170.64 407.76 L171.31 407.95 L171.98 408.14 L172.65 408.33 L173.31 408.52 L173.98 408.71 L174.65 408.90 L175.31 409.09 L175.98 409.28 L176.65 409.47 L177.32 409.66 L177.98 409.85 L178.65 410.03 L179.32 410.22 L179.98 410.41 L180.65 410.60 L181.32 410.79 L181.99 410.98 L182.65 411.17 L183.32 411.36 L183.99 411.55 L184.66 411.74 L185.32 411.93 L185.99 412.12 L186.66 412.31 L187.32 412.50 L187.99 412.69 L188.66 412.88 L189.33 413.07 L189.99 413.25 L190.66 413.44 L191.33 413.63 L191.99 413.82 L192.66 414.01 L193.33 414.20 L194.00 414.39 L194.66 414.58 L195.33 414.77 L196.00 414.96 L196.67 415.15 L197.33 415.34 L198.00 415.53" fill="none" stroke="#2f8a50" stroke-width="4.2" stroke-dasharray="9.0 15.4" stroke-linecap="round"/>
<path d="M204.50 417.37 L205.53 417.66 L206.55 417.96 L207.58 418.25 L208.60 418.54 L209.63 418.83 L210.66 419.12 L211.68 419.41 L212.71 419.70 L213.73 419.99 L214.76 420.28 L215.78 420.58 L216.81 420.87 L217.84 421.16 L218.86 421.45 L219.89 421.74 L220.91 422.03 L221.94 422.32 L222.97 422.61 L223.99 422.91 L225.02 423.20 L226.04 423.49 L227.07 423.78 L228.10 424.07 L229.12 424.36 L230.15 424.65 L231.17 424.94 L232.20 425.24 L233.22 425.53 L234.25 425.82 L235.28 426.11 L236.30 426.40 L237.33 426.69 L238.35 426.98 L239.38 427.27 L240.41 427.57 L241.43 427.86 L242.46 428.15 L243.48 428.44 L244.51 428.73 L245.54 429.02 L246.56 429.31 L247.59 429.60 L248.61 429.90 L249.64 430.19 L250.66 430.48 L251.69 430.77 L252.72 431.06 L253.74 431.35 L254.77 431.64 L255.79 431.93 L256.82 432.22 L257.85 432.52 L258.87 432.81 L259.90 433.10 L260.92 433.39 L261.95 433.68 L262.97 433.97 L264.00 434.26 L265.03 434.55 L266.05 434.85 L267.08 435.14 L268.10 435.43 L269.13 435.72 L270.16 436.01 L271.18 436.30 L272.21 436.59 L273.23 436.88 L274.26 437.18 L275.29 437.47 L276.31 437.76 L277.34 438.05 L278.36 438.34 L279.39 438.63 L280.41 438.92 L281.44 439.22 L282.47 439.51 L283.49 439.80 L284.52 440.09 L285.54 440.38 L286.57 440.68 L287.60 440.97 L288.62 441.26 L289.65 441.56 L290.67 441.85 L291.70 442.14 L292.73 442.44 L293.75 442.73 L294.78 443.03 L295.80 443.32 L296.83 443.62 L297.85 443.91 L298.88 444.21 L299.91 444.51 L300.93 444.80 L301.96 445.10 L302.98 445.40 L304.01 445.70 L305.04 446.00 L306.06 446.30 L307.09 446.60 L308.11 446.90 L309.14 447.20 L310.17 447.51 L311.19 447.81 L312.22 448.11 L313.24 448.42 L314.27 448.72 L315.29 449.03 L316.32 449.34 L317.35 449.64 L318.37 449.95 L319.40 450.26 L320.42 450.57 L321.45 450.88 L322.48 451.20 L323.50 451.51 L324.53 451.82 L325.55 452.14 L326.58 452.45 L327.61 452.77 L328.63 453.09 L329.66 453.41 L330.68 453.73 L331.71 454.05 L332.73 454.37 L333.76 454.69 L334.79 455.01 L335.81 455.34 L336.84 455.66 L337.86 455.99 L338.89 456.32 L339.92 456.65 L340.94 456.98 L341.97 457.31 L342.99 457.64 L344.02 457.97 L345.04 458.31 L346.07 458.64 L347.10 458.98 L348.12 459.32 L349.15 459.65 L350.17 459.99 L351.20 460.33 L352.23 460.68 L353.25 461.02 L354.28 461.36 L355.30 461.71 L356.33 462.05 L357.36 462.40 L358.38 462.75 L359.41 463.10 L360.43 463.45 L361.46 463.80 L362.48 464.15 L363.51 464.50 L364.54 464.86 L365.56 465.21 L366.59 465.57 L367.61 465.93 L368.64 466.29 L369.67 466.65 L370.69 467.01 L371.72 467.37 L372.74 467.73 L373.77 468.10 L374.80 468.46 L375.82 468.83 L376.85 469.19 L377.87 469.56 L378.90 469.93 L379.92 470.30 L380.95 470.67 L381.98 471.04 L383.00 471.42 L384.03 471.79 L385.05 472.16 L386.08 472.54 L387.11 472.92 L388.13 473.29 L389.16 473.67 L390.18 474.05 L391.21 474.43 L392.24 474.81 L393.26 475.20 L394.29 475.58 L395.31 475.96 L396.34 476.35 L397.36 476.73 L398.39 477.12 L399.42 477.51 L400.44 477.89 L401.47 478.28 L402.49 478.67 L403.52 479.06 L404.55 479.46 L405.57 479.85 L406.60 480.24 L407.62 480.63 L408.65 481.03 L409.68 481.42 L410.70 481.82 L411.73 482.21 L412.75 482.61 L413.78 483.01 L414.80 483.41 L415.83 483.81 L416.86 484.21 L417.88 484.61 L418.91 485.01 L419.93 485.41 L420.96 485.81 L421.99 486.21 L423.01 486.61 L424.04 487.01 L425.06 487.41 L426.09 487.81 L427.11 488.22 L428.14 488.62 L429.17 489.02 L430.19 489.43 L431.22 489.84 L432.24 490.24 L433.27 490.65 L434.30 491.06 L435.32 491.46 L436.35 491.87 L437.37 492.28 L438.40 492.69 L439.43 493.10 L440.45 493.51 L441.48 493.93 L442.50 494.34 L443.53 494.75 L444.55 495.16 L445.58 495.58 L446.61 495.99 L447.63 496.41 L448.66 496.82 L449.68 497.24 L450.71 497.66 L451.74 498.08 L452.76 498.50 L453.79 498.91 L454.81 499.33 L455.84 499.76 L456.87 500.18 L457.89 500.60 L458.92 501.02 L459.94 501.45 L460.97 501.87 L461.99 502.30 L463.02 502.72 L464.05 503.15 L465.07 503.58 L466.10 504.01 L467.12 504.44 L468.15 504.86 L469.18 505.29 L470.20 505.72 L471.23 506.15 L472.25 506.58 L473.28 507.01 L474.31 507.43 L475.33 507.86 L476.36 508.29 L477.38 508.71 L478.41 509.14 L479.43 509.58 L480.46 510.01 L481.49 510.44 L482.51 510.88 L483.54 511.32 L484.56 511.75 L485.59 512.19 L486.62 512.63 L487.64 513.07 L488.67 513.52 L489.69 513.96 L490.72 514.41 L491.75 514.85 L492.77 515.30 L493.80 515.75 L494.82 516.20 L495.85 516.65 L496.87 517.11 L497.90 517.56 L498.93 518.02 L499.95 518.48 L500.98 518.94 L502.00 519.40 L503.03 519.86 L504.06 520.32 L505.08 520.79 L506.11 521.26 L507.13 521.73 L508.16 522.20 L509.18 522.67 L510.21 523.15 L511.24 523.62 L512.26 524.10 L513.29 524.58 L514.31 525.06 L515.34 525.55 L516.37 526.03 L517.39 526.52 L518.42 527.01 L519.44 527.50 L520.47 527.99 L521.50 528.49 L522.52 528.99 L523.55 529.49 L524.57 529.99 L525.60 530.49 L526.62 530.99 L527.65 531.50 L528.68 532.01 L529.70 532.52 L530.73 533.03 L531.75 533.55 L532.78 534.06 L533.81 534.58 L534.83 535.10 L535.86 535.62 L536.88 536.15 L537.91 536.67 L538.94 537.20 L539.96 537.73 L540.99 538.26 L542.01 538.80 L543.04 539.33 L544.06 539.87 L545.09 540.41 L546.12 540.95 L547.14 541.50 L548.17 542.04 L549.19 542.59 L550.22 543.14 L551.25 543.69 L552.27 544.25 L553.30 544.80 L554.32 545.36 L555.35 545.92 L556.38 546.48 L557.40 547.05 L558.43 547.61 L559.45 548.18 L560.48 548.75 L561.50 549.33 L562.53 549.90 L563.56 550.48 L564.58 551.06 L565.61 551.64 L566.63 552.22 L567.66 552.81 L568.69 553.39 L569.71 553.98 L570.74 554.57 L571.76 555.16 L572.79 555.75 L573.82 556.34 L574.84 556.93 L575.87 557.52 L576.89 558.12 L577.92 558.71 L578.94 559.31 L579.97 559.91 L581.00 560.51 L582.02 561.12 L583.05 561.72 L584.07 562.33 L585.10 562.95 L586.13 563.58 L587.15 564.22 L588.18 564.86 L589.20 565.52 L590.23 566.19 L591.25 566.86 L592.28 567.56 L593.31 568.27 L594.33 568.99 L595.36 569.74 L596.38 570.51 L597.41 571.30 L598.44 572.10 L599.46 572.89 L600.49 573.68 L601.51 574.46 L602.54 575.23 L603.57 576.10 L604.59 577.10 L605.62 578.31 L606.64 579.85 L607.67 581.79 L608.69 584.13 L609.72 586.52 L610.75 589.42 L611.77 592.80 L612.80 596.51 L613.82 600.20" fill="none" stroke="#2f8a50" stroke-width="4.2" stroke-linejoin="round" stroke-linecap="round"/>
<path d="M118.60 390.65 L119.27 390.84 L119.93 391.02 L120.60 391.21 L121.27 391.40 L121.94 391.59 L122.60 391.77 L123.27 391.96 L123.94 392.15 L124.61 392.34 L125.27 392.52 L125.94 392.71 L126.61 392.90 L127.27 393.09 L127.94 393.27 L128.61 393.46 L129.28 393.65 L129.94 393.84 L130.61 394.02 L131.28 394.21 L131.94 394.40 L132.61 394.59 L133.28 394.77 L133.95 394.96 L134.61 395.15 L135.28 395.34 L135.95 395.52 L136.62 395.71 L137.28 395.90 L137.95 396.09 L138.62 396.27 L139.28 396.46 L139.95 396.65 L140.62 396.84 L141.29 397.02 L141.95 397.21 L142.62 397.40 L143.29 397.59 L143.95 397.77 L144.62 397.96 L145.29 398.15 L145.96 398.34 L146.62 398.52 L147.29 398.71 L147.96 398.90 L148.63 399.09 L149.29 399.27 L149.96 399.46 L150.63 399.65 L151.29 399.84 L151.96 400.02 L152.63 400.21 L153.30 400.40 L153.96 400.58 L154.63 400.77 L155.30 400.96 L155.96 401.15 L156.63 401.33 L157.30 401.52 L157.97 401.71 L158.63 401.90 L159.30 402.08 L159.97 402.27 L160.64 402.46 L161.30 402.65 L161.97 402.83 L162.64 403.02 L163.30 403.21 L163.97 403.40 L164.64 403.58 L165.31 403.77 L165.97 403.96 L166.64 404.15 L167.31 404.33 L167.97 404.52 L168.64 404.71 L169.31 404.90 L169.98 405.08 L170.64 405.27 L171.31 405.46 L171.98 405.65 L172.65 405.83 L173.31 406.02 L173.98 406.21 L174.65 406.40 L175.31 406.58 L175.98 406.77 L176.65 406.96 L177.32 407.15 L177.98 407.33 L178.65 407.52 L179.32 407.71 L179.98 407.90 L180.65 408.08 L181.32 408.27 L181.99 408.46 L182.65 408.65 L183.32 408.83 L183.99 409.02 L184.66 409.21 L185.32 409.40 L185.99 409.58 L186.66 409.77 L187.32 409.96 L187.99 410.15 L188.66 410.33 L189.33 410.52 L189.99 410.71 L190.66 410.90 L191.33 411.08 L191.99 411.27 L192.66 411.46 L193.33 411.65 L194.00 411.83 L194.66 412.02 L195.33 412.21 L196.00 412.39 L196.67 412.58 L197.33 412.77 L198.00 412.96" fill="none" stroke="#3b3595" stroke-width="4.7" stroke-dasharray="9.0 15.4" stroke-linecap="round"/>
<path d="M204.50 414.78 L205.53 415.07 L206.56 415.36 L207.59 415.65 L208.62 415.94 L209.65 416.23 L210.68 416.52 L211.71 416.81 L212.74 417.10 L213.77 417.39 L214.80 417.68 L215.83 417.97 L216.85 418.25 L217.88 418.54 L218.91 418.83 L219.94 419.12 L220.97 419.41 L222.00 419.70 L223.03 419.99 L224.06 420.28 L225.09 420.57 L226.12 420.86 L227.15 421.15 L228.18 421.44 L229.21 421.73 L230.24 422.02 L231.27 422.30 L232.30 422.59 L233.33 422.88 L234.36 423.17 L235.39 423.46 L236.42 423.75 L237.45 424.04 L238.48 424.33 L239.51 424.62 L240.54 424.91 L241.56 425.20 L242.59 425.49 L243.62 425.78 L244.65 426.06 L245.68 426.35 L246.71 426.64 L247.74 426.93 L248.77 427.22 L249.80 427.51 L250.83 427.80 L251.86 428.09 L252.89 428.38 L253.92 428.67 L254.95 428.96 L255.98 429.25 L257.01 429.54 L258.04 429.83 L259.07 430.11 L260.10 430.40 L261.13 430.69 L262.16 430.98 L263.19 431.27 L264.22 431.56 L265.24 431.85 L266.27 432.14 L267.30 432.43 L268.33 432.72 L269.36 433.01 L270.39 433.30 L271.42 433.59 L272.45 433.88 L273.48 434.16 L274.51 434.45 L275.54 434.74 L276.57 435.03 L277.60 435.32 L278.63 435.61 L279.66 435.90 L280.69 436.19 L281.72 436.48 L282.75 436.77 L283.78 437.06 L284.81 437.35 L285.84 437.64 L286.87 437.93 L287.90 438.22 L288.93 438.52 L289.95 438.81 L290.98 439.10 L292.01 439.39 L293.04 439.68 L294.07 439.98 L295.10 440.27 L296.13 440.56 L297.16 440.86 L298.19 441.15 L299.22 441.44 L300.25 441.74 L301.28 442.04 L302.31 442.33 L303.34 442.63 L304.37 442.93 L305.40 443.23 L306.43 443.52 L307.46 443.82 L308.49 444.12 L309.52 444.42 L310.55 444.72 L311.58 445.03 L312.61 445.33 L313.63 445.63 L314.66 445.94 L315.69 446.24 L316.72 446.55 L317.75 446.85 L318.78 447.16 L319.81 447.47 L320.84 447.78 L321.87 448.09 L322.90 448.40 L323.93 448.71 L324.96 449.02 L325.99 449.34 L327.02 449.65 L328.05 449.97 L329.08 450.28 L330.11 450.60 L331.14 450.92 L332.17 451.24 L333.20 451.56 L334.23 451.88 L335.26 452.21 L336.29 452.53 L337.32 452.85 L338.34 453.18 L339.37 453.51 L340.40 453.83 L341.43 454.16 L342.46 454.49 L343.49 454.82 L344.52 455.16 L345.55 455.49 L346.58 455.82 L347.61 456.16 L348.64 456.50 L349.67 456.83 L350.70 457.17 L351.73 457.51 L352.76 457.85 L353.79 458.19 L354.82 458.54 L355.85 458.88 L356.88 459.23 L357.91 459.57 L358.94 459.92 L359.97 460.27 L361.00 460.62 L362.02 460.97 L363.05 461.32 L364.08 461.67 L365.11 462.03 L366.14 462.38 L367.17 462.74 L368.20 463.09 L369.23 463.45 L370.26 463.81 L371.29 464.17 L372.32 464.53 L373.35 464.90 L374.38 465.26 L375.41 465.62 L376.44 465.99 L377.47 466.35 L378.50 466.72 L379.53 467.09 L380.56 467.46 L381.59 467.83 L382.62 468.20 L383.65 468.57 L384.68 468.95 L385.71 469.32 L386.73 469.69 L387.76 470.07 L388.79 470.45 L389.82 470.83 L390.85 471.20 L391.88 471.58 L392.91 471.96 L393.94 472.35 L394.97 472.73 L396.00 473.11 L397.03 473.49 L398.06 473.88 L399.09 474.27 L400.12 474.65 L401.15 475.04 L402.18 475.43 L403.21 475.82 L404.24 476.21 L405.27 476.60 L406.30 476.99 L407.33 477.38 L408.36 477.77 L409.39 478.17 L410.41 478.56 L411.44 478.96 L412.47 479.35 L413.50 479.75 L414.53 480.15 L415.56 480.54 L416.59 480.94 L417.62 481.34 L418.65 481.74 L419.68 482.14 L420.71 482.54 L421.74 482.94 L422.77 483.35 L423.80 483.75 L424.83 484.15 L425.86 484.56 L426.89 484.96 L427.92 485.37 L428.95 485.77 L429.98 486.18 L431.01 486.59 L432.04 487.00 L433.07 487.40 L434.09 487.81 L435.12 488.22 L436.15 488.63 L437.18 489.04 L438.21 489.46 L439.24 489.87 L440.27 490.28 L441.30 490.69 L442.33 491.11 L443.36 491.52 L444.39 491.94 L445.42 492.35 L446.45 492.77 L447.48 493.19 L448.51 493.60 L449.54 494.02 L450.57 494.44 L451.60 494.86 L452.63 495.28 L453.66 495.70 L454.69 496.12 L455.72 496.55 L456.75 496.97 L457.78 497.39 L458.80 497.82 L459.83 498.24 L460.86 498.67 L461.89 499.10 L462.92 499.53 L463.95 499.96 L464.98 500.39 L466.01 500.82 L467.04 501.25 L468.07 501.68 L469.10 502.12 L470.13 502.55 L471.16 502.99 L472.19 503.42 L473.22 503.86 L474.25 504.30 L475.28 504.74 L476.31 505.18 L477.34 505.62 L478.37 506.06 L479.40 506.51 L480.43 506.95 L481.46 507.40 L482.48 507.85 L483.51 508.30 L484.54 508.75 L485.57 509.20 L486.60 509.65 L487.63 510.11 L488.66 510.56 L489.69 511.02 L490.72 511.47 L491.75 511.93 L492.78 512.39 L493.81 512.86 L494.84 513.32 L495.87 513.78 L496.90 514.25 L497.93 514.72 L498.96 515.19 L499.99 515.66 L501.02 516.13 L502.05 516.60 L503.08 517.08 L504.11 517.56 L505.14 518.04 L506.17 518.52 L507.19 519.00 L508.22 519.48 L509.25 519.97 L510.28 520.45 L511.31 520.94 L512.34 521.44 L513.37 521.93 L514.40 522.42 L515.43 522.92 L516.46 523.42 L517.49 523.92 L518.52 524.42 L519.55 524.93 L520.58 525.43 L521.61 525.94 L522.64 526.45 L523.67 526.96 L524.70 527.47 L525.73 527.99 L526.76 528.51 L527.79 529.03 L528.82 529.55 L529.85 530.07 L530.87 530.60 L531.90 531.12 L532.93 531.65 L533.96 532.18 L534.99 532.72 L536.02 533.25 L537.05 533.79 L538.08 534.33 L539.11 534.87 L540.14 535.41 L541.17 535.96 L542.20 536.50 L543.23 537.05 L544.26 537.60 L545.29 538.16 L546.32 538.71 L547.35 539.27 L548.38 539.83 L549.41 540.39 L550.44 540.95 L551.47 541.52 L552.50 542.08 L553.53 542.65 L554.56 543.22 L555.58 543.79 L556.61 544.37 L557.64 544.95 L558.67 545.53 L559.70 546.11 L560.73 546.69 L561.76 547.28 L562.79 547.87 L563.82 548.46 L564.85 549.05 L565.88 549.65 L566.91 550.24 L567.94 550.84 L568.97 551.44 L570.00 552.04 L571.03 552.64 L572.06 553.24 L573.09 553.84 L574.12 554.45 L575.15 555.05 L576.18 555.66 L577.21 556.27 L578.24 556.88 L579.26 557.49 L580.29 558.10 L581.32 558.72 L582.35 559.34 L583.38 559.96 L584.41 560.58 L585.44 561.21 L586.47 561.85 L587.50 562.50 L588.53 563.17 L589.56 563.84 L590.59 564.52 L591.62 565.21 L592.65 565.91 L593.68 566.62 L594.71 567.36 L595.74 568.13 L596.77 568.92 L597.80 569.73 L598.83 570.54 L599.86 571.34 L600.89 572.15 L601.92 572.94 L602.95 573.73 L603.97 574.59 L605.00 575.55 L606.03 576.63 L607.06 577.90 L608.09 579.36 L609.12 581.05 L610.15 583.02 L611.18 585.32 L612.21 588.12 L613.24 591.41 L614.27 594.98 L615.30 599.60" fill="none" stroke="#3b3595" stroke-width="4.7" stroke-linejoin="round" stroke-linecap="round"/>
<text x="100.2" y="567.9" font-size="24.6" text-anchor="start" textLength="9.0" lengthAdjust="spacingAndGlyphs" fill="#222222" stroke="#222222" stroke-width="0.35">5</text>
<text x="91.2" y="528.8" font-size="24.6" text-anchor="start" textLength="18.0" lengthAdjust="spacingAndGlyphs" fill="#222222" stroke="#222222" stroke-width="0.35">10</text>
<text x="91.2" y="489.8" font-size="24.6" text-anchor="start" textLength="18.0" lengthAdjust="spacingAndGlyphs" fill="#222222" stroke="#222222" stroke-width="0.35">15</text>
<text x="91.2" y="450.7" font-size="24.6" text-anchor="start" textLength="18.0" lengthAdjust="spacingAndGlyphs" fill="#222222" stroke="#222222" stroke-width="0.35">20</text>
<text x="91.2" y="411.7" font-size="24.6" text-anchor="start" textLength="18.0" lengthAdjust="spacingAndGlyphs" fill="#222222" stroke="#222222" stroke-width="0.35">25</text>
<text x="91.2" y="372.6" font-size="24.6" text-anchor="start" textLength="18.0" lengthAdjust="spacingAndGlyphs" fill="#222222" stroke="#222222" stroke-width="0.35">30</text>
<text x="91.2" y="333.6" font-size="24.6" text-anchor="start" textLength="18.0" lengthAdjust="spacingAndGlyphs" fill="#222222" stroke="#222222" stroke-width="0.35">35</text>
<text x="91.2" y="294.5" font-size="24.6" text-anchor="start" textLength="18.0" lengthAdjust="spacingAndGlyphs" fill="#222222" stroke="#222222" stroke-width="0.35">40</text>
<text x="91.2" y="255.5" font-size="24.6" text-anchor="start" textLength="18.0" lengthAdjust="spacingAndGlyphs" fill="#222222" stroke="#222222" stroke-width="0.35">45</text>
<text x="102.2" y="614.0" font-size="24.6" text-anchor="start" textLength="8.8" lengthAdjust="spacingAndGlyphs" fill="#222222" stroke="#222222" stroke-width="0.35">0</text>
<text x="159.5" y="623.3" font-size="24.6" text-anchor="start" textLength="17.6" lengthAdjust="spacingAndGlyphs" fill="#222222" stroke="#222222" stroke-width="0.35">10</text>
<text x="209.3" y="623.3" font-size="24.6" text-anchor="start" textLength="17.6" lengthAdjust="spacingAndGlyphs" fill="#222222" stroke="#222222" stroke-width="0.35">20</text>
<text x="259.0" y="623.3" font-size="24.6" text-anchor="start" textLength="17.6" lengthAdjust="spacingAndGlyphs" fill="#222222" stroke="#222222" stroke-width="0.35">30</text>
<text x="308.7" y="623.3" font-size="24.6" text-anchor="start" textLength="17.6" lengthAdjust="spacingAndGlyphs" fill="#222222" stroke="#222222" stroke-width="0.35">40</text>
<text x="358.4" y="623.3" font-size="24.6" text-anchor="start" textLength="17.6" lengthAdjust="spacingAndGlyphs" fill="#222222" stroke="#222222" stroke-width="0.35">50</text>
<text x="408.2" y="623.3" font-size="24.6" text-anchor="start" textLength="17.6" lengthAdjust="spacingAndGlyphs" fill="#222222" stroke="#222222" stroke-width="0.35">60</text>
<text x="457.9" y="623.3" font-size="24.6" text-anchor="start" textLength="17.6" lengthAdjust="spacingAndGlyphs" fill="#222222" stroke="#222222" stroke-width="0.35">70</text>
<text x="507.6" y="623.3" font-size="24.6" text-anchor="start" textLength="17.6" lengthAdjust="spacingAndGlyphs" fill="#222222" stroke="#222222" stroke-width="0.35">80</text>
<text x="557.3" y="623.3" font-size="24.6" text-anchor="start" textLength="17.6" lengthAdjust="spacingAndGlyphs" fill="#222222" stroke="#222222" stroke-width="0.35">90</text>
<text x="597.0" y="623.3" font-size="24.6" text-anchor="start" textLength="28.6" lengthAdjust="spacingAndGlyphs" fill="#222222" stroke="#222222" stroke-width="0.35">100</text>
<text x="632.6" y="623.3" font-size="24.6" text-anchor="start" textLength="28.2" lengthAdjust="spacingAndGlyphs" fill="#222222" stroke="#222222" stroke-width="0.35">105</text>
<text x="306.6" y="49.3" font-size="23.2" text-anchor="start" textLength="137.0" lengthAdjust="spacingAndGlyphs" fill="#222222" stroke="#222222" stroke-width="0.15" font-weight="bold">Derating Curve</text>
<text x="123.4" y="80.0" font-size="23.2" text-anchor="start" textLength="504.2" lengthAdjust="spacingAndGlyphs" fill="#222222" stroke="#222222" stroke-width="0.55">1-conductor female connector (2231-202/026-000) with</text>
<text x="209.8" y="110.2" font-size="23.2" text-anchor="start" textLength="331.0" lengthAdjust="spacingAndGlyphs" fill="#222222" stroke="#222222" stroke-width="0.55">THT male header (231-262/001-000)</text>
<text x="103.2" y="140.6" font-size="23.2" text-anchor="start" textLength="489.6" lengthAdjust="spacingAndGlyphs" fill="#222222" stroke="#222222" stroke-width="0.55">Pin spacing: 7.5 mm / Conductor cross-section: 2.5 mm</text>
<text x="592.6" y="132.8" font-size="12.0" text-anchor="start" textLength="5.4" lengthAdjust="spacingAndGlyphs" fill="#222222" stroke="#222222" stroke-width="0.30">2</text>
<text x="603.4" y="140.6" font-size="23.2" text-anchor="start" textLength="45.0" lengthAdjust="spacingAndGlyphs" fill="#222222" stroke="#222222" stroke-width="0.55">"f-st"</text>
<text x="163.8" y="170.8" font-size="23.2" text-anchor="start" textLength="421.6" lengthAdjust="spacingAndGlyphs" fill="#222222" stroke="#222222" stroke-width="0.55">Based on: EN 60512-5-2 / Reduction factor: 0.8</text>
<text x="88.0" y="222.2" font-size="23.3" text-anchor="start" textLength="105.3" lengthAdjust="spacingAndGlyphs" fill="#222222" stroke="#222222" stroke-width="0.55">Current in A</text>
<text x="339.3" y="656.6" font-size="23.3" text-anchor="start" textLength="325.7" lengthAdjust="spacingAndGlyphs" fill="#222222" stroke="#222222" stroke-width="0.55">Ambient operating temperature in °C</text>
<text x="117.7" y="715.3" font-size="24.0" text-anchor="start" textLength="23.5" lengthAdjust="spacingAndGlyphs" fill="#e8412b" stroke="#e8412b" stroke-width="0.55">2-,</text>
<text x="145.5" y="715.3" font-size="24.0" text-anchor="start" textLength="23.3" lengthAdjust="spacingAndGlyphs" fill="#88cbd0" stroke="#88cbd0" stroke-width="0.55">4-,</text>
<text x="174.5" y="715.3" font-size="24.0" text-anchor="start" textLength="23.5" lengthAdjust="spacingAndGlyphs" fill="#6bb945" stroke="#6bb945" stroke-width="0.55">6-,</text>
<text x="204.2" y="715.3" font-size="24.0" text-anchor="start" textLength="35.1" lengthAdjust="spacingAndGlyphs" fill="#3b3595" stroke="#3b3595" stroke-width="0.55">12-,</text>
<text x="244.4" y="715.3" font-size="24.0" text-anchor="start" textLength="30.3" lengthAdjust="spacingAndGlyphs" fill="#2f8a50" stroke="#2f8a50" stroke-width="0.55">16-</text>
<text x="280.2" y="715.3" font-size="24.0" text-anchor="start" textLength="39.1" lengthAdjust="spacingAndGlyphs" fill="#222222" stroke="#222222" stroke-width="0.55">pole</text>
<line x1="395.2" y1="707.4" x2="442.7" y2="707.4" stroke="#f08328" stroke-width="3.8"/>
<text x="450.8" y="715.4" font-size="24.0" text-anchor="start" textLength="214.6" lengthAdjust="spacingAndGlyphs" fill="#222222" stroke="#222222" stroke-width="0.55">Conductor rated current</text>
</svg></body></html>
